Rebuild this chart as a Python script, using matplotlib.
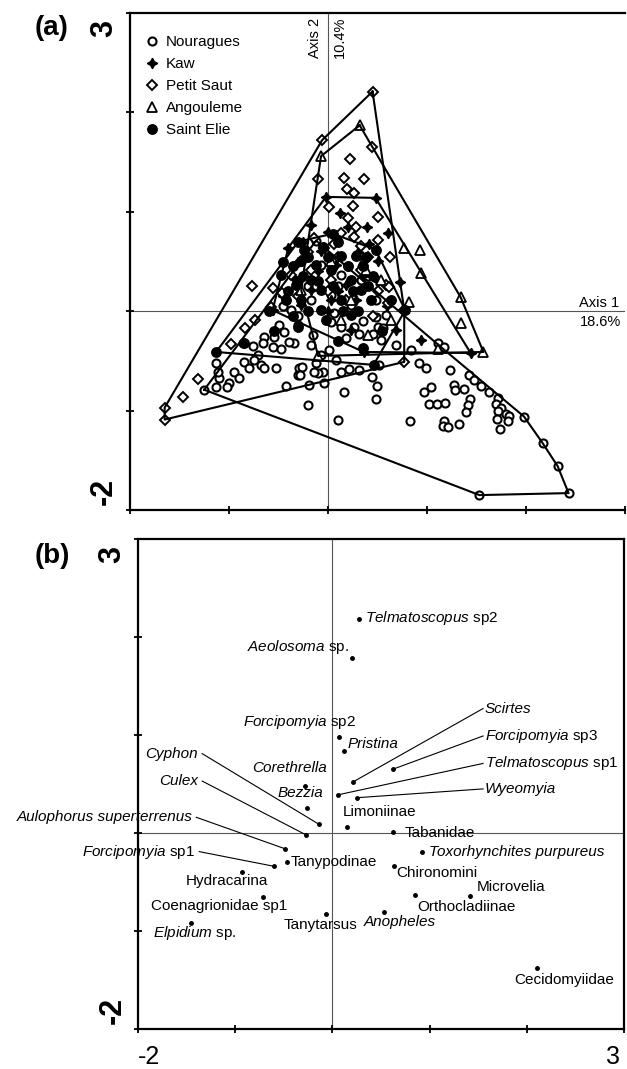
import numpy as np
import matplotlib
matplotlib.use("Agg")
import matplotlib.pyplot as plt
import matplotlib.transforms as mtrans

plt.rcParams['font.family'] = ['Liberation Sans', 'DejaVu Sans']
plt.rcParams['mathtext.fontset'] = 'custom'
plt.rcParams['mathtext.rm'] = 'Liberation Sans'
plt.rcParams['mathtext.it'] = 'Liberation Sans:italic'

# ---- panel (a): site scores on axes 1/2 ----
sites = ["Nouragues", "Kaw", "Petit Saut", "Angouleme", "Saint Elie"]

nouragues = [
    (-1.25, -0.79), (-0.12, 0.71), (1.14, -0.36), (1.98, -1.06), (2.17, -1.33),
    (2.32, -1.56), (2.43, -1.83), (1.53, -1.85),
    (-0.49, -0.14), (-0.44, -0.21), (-0.55, -0.26), (-0.65, -0.26), (-0.66, -0.32),
    (-0.56, -0.36), (-0.47, -0.38), (-0.76, -0.35), (-0.86, -0.32), (-0.71, -0.44),
    (-0.85, -0.51), (-0.80, -0.57), (-0.68, -0.54), (-0.65, -0.57), (-0.75, -0.49),
    (-0.53, -0.57), (-0.95, -0.61), (-0.90, -0.67), (-1.00, -0.72), (-1.02, -0.76),
    (-1.10, -0.67), (-1.11, -0.61), (-1.13, -0.76), (-1.13, -0.52), (-0.42, -0.75),
    (-0.29, -0.57), (-0.30, -0.64), (-0.19, -0.74), (-0.34, -0.32), (-0.15, -0.24),
    (-0.17, -0.34), (-0.07, -0.44), (-0.12, -0.52), (-0.05, -0.61), (-0.20, -0.94),
    (-0.04, -0.72), (0.01, -0.39), (0.08, -0.49), (0.13, -0.61), (0.21, -0.58),
    (0.31, -0.59), (0.16, -0.81), (0.10, -1.09), (0.44, -0.66), (0.49, -0.75),
    (0.48, -0.88), (0.52, -0.54), (0.48, -0.06), (0.51, -0.16), (0.56, -0.17),
    (0.54, -0.29), (0.69, -0.34), (0.84, -0.39), (0.92, -0.52), (0.99, -0.57),
    (1.11, -0.32), (1.17, -0.36), (1.23, -0.59), (0.97, -0.81), (1.04, -0.76),
    (1.02, -0.93), (1.10, -0.93), (1.18, -0.92), (0.83, -1.10), (1.17, -1.10),
    (1.16, -1.15), (1.21, -1.17), (1.32, -1.13), (1.27, -0.74), (1.28, -0.79),
    (1.37, -0.78), (1.42, -0.64), (1.47, -0.69), (1.55, -0.75), (1.63, -0.81),
    (1.72, -0.87), (1.43, -0.88), (1.41, -0.94), (1.39, -1.01), (1.70, -0.93),
    (1.75, -0.97), (1.72, -1.00), (1.80, -1.03), (1.71, -1.08), (1.83, -1.05),
    (1.82, -1.10), (1.74, -1.19), (0.06, -0.02), (0.03, -0.11), (0.13, -0.16),
    (0.26, -0.16), (0.31, -0.23), (0.45, -0.23), (0.18, -0.27), (-0.10, -0.62),
    (-0.30, -0.14), (-0.39, -0.31), (-0.14, -0.61), (-0.26, -0.56), (-0.28, -0.64),
    (-0.27, 0.51), (-0.07, 0.46), (0.13, 0.36), (0.33, 0.31), (-0.17, 0.11),
    (0.23, 0.06), (0.48, 0.11), (-0.37, 0.01), (0.03, 0.16), (0.59, -0.04),
    (-0.20, 0.25), (0.10, 0.25), (0.40, 0.35), (-0.30, -0.05), (0.20, 0.45),
    (0.35, -0.10), (-0.45, 0.05),
]
kaw = [
    (-0.02, 1.15), (0.48, 1.14), (1.44, -0.42), (0.36, -0.41), (-0.56, 0.01),
    (-0.40, 0.64), (0.39, 0.85), (0.61, 0.79), (0.51, 0.51), (0.41, 0.68),
    (0.12, 0.99), (0.73, 0.29), (-0.35, 0.34), (-0.30, 0.49), (-0.17, 0.87),
    (-0.07, 0.61), (0.08, 0.46), (0.18, 0.26), (0.28, 0.11), (-0.17, 0.21),
    (0.03, 0.11), (-0.27, 0.06), (0.69, -0.19), (0.94, -0.29), (0.23, -0.19),
    (-0.25, 0.70), (0.00, 0.80), (0.20, 0.85), (0.30, 0.60), (0.50, 0.30),
    (-0.10, 0.40), (0.10, 0.20), (0.35, 0.35), (-0.30, 0.30), (0.60, 0.05),
    (-0.45, 0.15), (0.00, 0.00),
]
petit_saut = [
    (0.45, 2.21), (-0.06, 1.72), (0.44, 1.65), (0.22, 1.53), (0.16, 1.34),
    (0.36, 1.33), (-0.10, 1.33), (0.19, 1.23), (0.26, 1.19), (0.01, 1.05),
    (0.25, 1.06), (0.20, 0.94), (0.51, 0.95), (0.28, 0.85), (0.13, 0.79),
    (0.26, 0.75), (-0.14, 0.74), (0.51, 0.72), (-0.04, 0.64), (0.33, 0.66),
    (0.63, 0.55), (0.06, 0.68), (-0.77, 0.25), (-0.56, 0.23), (-0.46, 0.18),
    (-0.58, 0.04), (-0.74, -0.09), (-0.84, -0.17), (-0.98, -0.33), (-1.31, -0.68),
    (-1.46, -0.86), (-1.65, -0.97), (-1.65, -1.09), (0.59, 0.26), (0.61, 0.08),
    (0.77, 0.01), (0.77, -0.51), (0.62, 0.24), (-0.27, 0.51), (-0.17, 0.41),
    (0.03, 0.31), (0.18, 0.11), (0.33, 0.41), (-0.37, 0.36),
    (-0.20, 0.60), (0.10, 0.55), (0.40, 0.55), (-0.30, 0.15), (0.50, 0.20),
    (0.00, 0.20), (0.45, -0.05),
]
angouleme = [
    (0.32, 1.87), (-0.07, 1.56), (-0.22, 0.58), (-0.27, 0.21), (-0.10, -0.45),
    (1.57, -0.41), (1.34, 0.14), (1.34, -0.12), (0.94, 0.38), (0.77, 0.64),
    (0.93, 0.62), (0.82, 0.09), (0.54, 0.31), (0.38, 0.41), (0.35, 0.49),
    (0.40, -0.24), (1.11, -0.38), (0.23, 0.11), (0.13, -0.09), (0.64, -0.09),
    (0.03, 0.51),
]
saint_elie = [
    (-1.13, -0.41), (-0.30, 0.70), (0.05, 0.78), (0.48, 0.62), (0.78, 0.01),
    (0.46, -0.54), (-0.85, -0.32), (0.35, -0.37), (-0.30, -0.16), (-0.24, 0.62),
    (-0.27, 0.51), (-0.17, 0.31), (-0.07, 0.21), (0.03, 0.41), (0.13, 0.56),
    (0.23, 0.31), (0.33, 0.21), (-0.27, 0.11), (-0.42, 0.11), (-0.07, 0.01),
    (0.13, 0.11), (-0.12, 0.46), (-0.32, 0.26), (0.28, 0.56), (0.43, 0.11),
    (0.64, 0.11), (-0.47, 0.36), (-0.02, -0.09), (0.23, -0.04), (-0.60, 0.00),
    (-0.55, -0.20), (0.10, -0.30), (0.55, -0.20),
    (-0.35, 0.45), (-0.20, 0.55), (-0.05, 0.65), (0.10, 0.70), (0.20, 0.45),
    (0.35, 0.45), (0.45, 0.35), (-0.40, 0.20), (-0.25, 0.35), (-0.10, 0.30),
    (0.05, 0.25), (0.25, 0.20), (0.40, 0.25), (0.15, 0.00), (0.30, 0.00),
    (-0.20, 0.00), (-0.35, -0.05), (0.00, 0.55), (0.38, 0.55), (-0.45, 0.50),
]

# outline vertices of each site cloud
nouragues_hull = [(-1.25, -0.79), (-0.12, 0.71), (1.14, -0.36), (1.98, -1.06),
                  (2.17, -1.33), (2.32, -1.56), (2.43, -1.83), (1.53, -1.85)]
kaw_hull = [(-0.02, 1.15), (0.48, 1.14), (1.44, -0.42), (0.36, -0.41),
            (-0.56, 0.01), (-0.40, 0.64)]
petit_saut_hull = [(0.45, 2.21), (0.77, 0.01), (0.77, -0.51), (-1.65, -1.09),
                   (-1.65, -0.97), (-0.06, 1.72)]
angouleme_hull = [(0.32, 1.87), (1.34, 0.14), (1.57, -0.41), (-0.10, -0.45),
                  (-0.27, 0.21), (-0.22, 0.58), (-0.07, 1.56)]
saint_elie_hull = [(-1.13, -0.41), (-0.30, 0.70), (0.05, 0.78), (0.48, 0.62),
                   (0.78, 0.01), (0.46, -0.54)]

# ---- panel (b): taxa scores ----
taxa = ["Telmatoscopus sp2", "Aeolosoma sp.", "Forcipomyia sp2", "Pristina",
        "Corethrella", "Bezzia", "Cyphon", "Culex", "Aulophorus superterrenus",
        "Forcipomyia sp1", "Tanypodinae", "Hydracarina", "Coenagrionidae sp1",
        "Elpidium sp.", "Tanytarsus", "Anopheles", "Orthocladiinae", "Microvelia",
        "Chironomini", "Toxorhynchites purpureus", "Tabanidae", "Limoniinae",
        "Wyeomyia", "Telmatoscopus sp1", "Forcipomyia sp3", "Scirtes",
        "Cecidomyiidae"]
taxa_x = [0.27, 0.20, 0.07, 0.12, -0.28, -0.26, -0.14, -0.27, -0.49, -0.60,
          -0.47, -0.93, -0.71, -1.45, -0.07, 0.53, 0.85, 1.42, 0.63, 0.92,
          0.62, 0.15, 0.25, 0.06, 0.62, 0.21, 2.11]
taxa_y = [2.18, 1.79, 0.98, 0.84, 0.48, 0.26, 0.09, -0.02, -0.16, -0.34,
          -0.30, -0.40, -0.65, -0.92, -0.83, -0.81, -0.63, -0.64, -0.34, -0.19,
          0.01, 0.06, 0.36, 0.39, 0.65, 0.52, -1.38]

# how each name is typeset (genus in italics)
taxa_tex = {
    "Telmatoscopus sp2": r"$\mathit{Telmatoscopus}$ sp2",
    "Aeolosoma sp.": r"$\mathit{Aeolosoma}$ sp.",
    "Forcipomyia sp2": r"$\mathit{Forcipomyia}$ sp2",
    "Forcipomyia sp1": r"$\mathit{Forcipomyia}$ sp1",
    "Forcipomyia sp3": r"$\mathit{Forcipomyia}$ sp3",
    "Telmatoscopus sp1": r"$\mathit{Telmatoscopus}$ sp1",
    "Elpidium sp.": r"$\mathit{Elpidium}$ sp.",
}
italic_taxa = {"Pristina", "Corethrella", "Bezzia", "Cyphon", "Culex",
               "Aulophorus superterrenus", "Toxorhynchites purpureus",
               "Anopheles", "Wyeomyia", "Scirtes"}

# label placement (x, y, ha, leader line)
label_pos = {
    "Telmatoscopus sp2": (0.34, 2.19, 'left', False),
    "Aeolosoma sp.": (0.17, 1.90, 'right', False),
    "Forcipomyia sp2": (0.24, 1.13, 'right', False),
    "Pristina": (0.16, 0.91, 'left', False),
    "Corethrella": (-0.06, 0.66, 'right', False),
    "Bezzia": (-0.09, 0.41, 'right', False),
    "Cyphon": (-1.38, 0.81, 'right', True),
    "Culex": (-1.38, 0.53, 'right', True),
    "Aulophorus superterrenus": (-1.44, 0.16, 'right', True),
    "Forcipomyia sp1": (-1.41, -0.19, 'right', True),
    "Tanypodinae": (-0.43, -0.30, 'left', False),
    "Hydracarina": (-1.09, -0.49, 'center', False),
    "Coenagrionidae sp1": (-1.17, -0.74, 'center', False),
    "Elpidium sp.": (-1.85, -1.02, 'left', False),
    "Tanytarsus": (-0.12, -0.94, 'center', False),
    "Anopheles": (0.32, -0.91, 'left', False),
    "Orthocladiinae": (0.87, -0.76, 'left', False),
    "Microvelia": (1.48, -0.55, 'left', False),
    "Chironomini": (0.66, -0.41, 'left', False),
    "Toxorhynchites purpureus": (0.99, -0.19, 'left', False),
    "Tabanidae": (0.74, 0.00, 'left', False),
    "Limoniinae": (0.49, 0.21, 'center', False),
    "Wyeomyia": (1.57, 0.45, 'left', True),
    "Telmatoscopus sp1": (1.57, 0.71, 'left', True),
    "Forcipomyia sp3": (1.57, 0.99, 'left', True),
    "Scirtes": (1.57, 1.27, 'left', True),
    "Cecidomyiidae": (2.38, -1.50, 'center', False),
}

W, H = 627, 1069
fig = plt.figure(figsize=(W / 100, H / 100), dpi=100)
ax1 = fig.add_axes([130 / W, 1 - 510 / H, 495 / W, 497 / H])
ax2 = fig.add_axes([138 / W, 1 - 1029 / H, 486 / W, 490 / H])


def style_axes(ax, right=True):
    ax.set_xlim(-2, 3)
    ax.set_ylim(-2, 3)
    ax.set_xticks(np.arange(-2, 4))
    ax.set_yticks(np.arange(-2, 4))
    ax.set_xticklabels([])
    ax.set_yticklabels([])
    ax.tick_params(direction='inout', length=6, width=1.3)
    for s in ax.spines.values():
        s.set_linewidth(1.6)
    ax.spines['right'].set_visible(right)
    ax.axhline(0, color='#555555', lw=0.8, zorder=1)
    ax.axvline(0, color='#555555', lw=0.8, zorder=1)
    tr = mtrans.blended_transform_factory(ax.transAxes, ax.transData)
    ax.text(-0.022, 2.93, '3', transform=tr, rotation=90, ha='right', va='top',
            fontsize=22, fontweight='bold')
    ax.text(-0.022, -1.95, '-2', transform=tr, rotation=90, ha='right',
            va='bottom', fontsize=22, fontweight='bold')


style_axes(ax1, right=False)
style_axes(ax2)

# site clouds
marker_style = {
    "Nouragues": dict(marker='o', ms=5.8, mfc='white', mec='black', mew=1.5),
    "Kaw": dict(marker=(4, 1, 0), ms=7.5, mfc='black', mec='black', mew=1),
    "Petit Saut": dict(marker='D', ms=5.3, mfc='white', mec='black', mew=1.4),
    "Angouleme": dict(marker='^', ms=6.5, mfc='white', mec='black', mew=1.3),
    "Saint Elie": dict(marker='o', ms=6.8, mfc='black', mec='black', mew=1),
}
clouds = [nouragues, kaw, petit_saut, angouleme, saint_elie]
hulls = [nouragues_hull, kaw_hull, petit_saut_hull, angouleme_hull, saint_elie_hull]

handles = []
for name, pts in zip(sites, clouds):
    pts = np.array(pts)
    h, = ax1.plot(pts[:, 0], pts[:, 1], ls='none', zorder=3, label=name,
                  **marker_style[name])
    handles.append(h)
for hull in hulls:
    hull = np.array(hull + hull[:1])
    ax1.plot(hull[:, 0], hull[:, 1], color='black', lw=1.5, zorder=4)

ax1.legend(handles=handles, loc='upper left', bbox_to_anchor=(0.03, 0.955),
           frameon=False, fontsize=11, labelspacing=0.52, handlelength=1.0,
           handletextpad=0.4, borderpad=0, borderaxespad=0)

ax1.text(-0.06, 2.95, 'Axis 2', rotation=90, ha='right', va='top', fontsize=10.5)
ax1.text(0.05, 2.96, '10.4%', rotation=90, ha='left', va='top', fontsize=10.5)
ax1.text(2.94, 0.08, 'Axis 1', ha='right', va='center', fontsize=10.5)
ax1.text(2.96, -0.11, '18.6%', ha='right', va='center', fontsize=10.5)

# taxa
ax2.plot(taxa_x, taxa_y, ls='none', marker='o', ms=2.5, color='black', zorder=3)
for name, x, y in zip(taxa, taxa_x, taxa_y):
    lx, ly, ha, leader = label_pos[name]
    txt = taxa_tex.get(name, name)
    style = 'italic' if name in italic_taxa else 'normal'
    ax2.text(lx, ly, txt, ha=ha, va='center', fontsize=11, style=style, zorder=4)
    if leader:
        sx = lx + 0.04 if ha == 'right' else lx - 0.02
        ax2.plot([sx, x], [ly, y], color='black', lw=0.8, zorder=2)

ax2.text(0.0, -0.0715, '-2', transform=ax2.transAxes, ha='left', va='baseline',
         fontsize=18)
ax2.text(0.992, -0.0715, '3', transform=ax2.transAxes, ha='right', va='baseline',
         fontsize=18)

fig.text(35 / W, 1 - 28 / H, '(a)', fontsize=20, fontweight='bold', va='center')
fig.text(35 / W, 1 - 556 / H, '(b)', fontsize=20, fontweight='bold', va='center')

fig.savefig('out.png', dpi=100)
